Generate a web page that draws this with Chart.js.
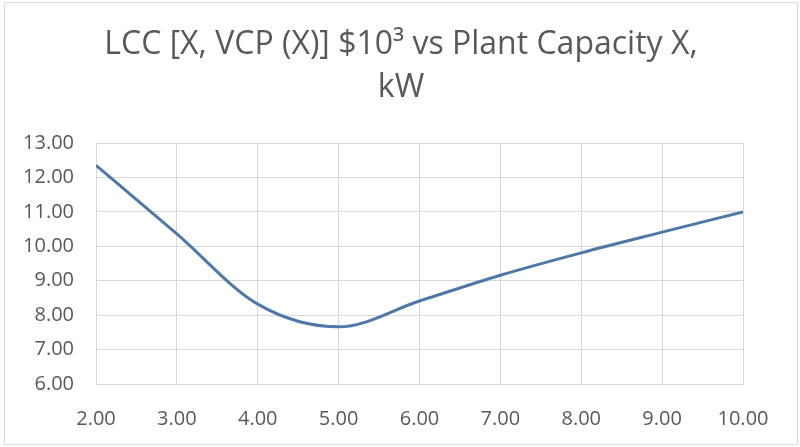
<!DOCTYPE html>
<html>
<head>
<meta charset="utf-8">
<script src="https://cdn.jsdelivr.net/npm/chart.js@4.4.0/dist/chart.umd.min.js"></script>
<style>
    body { margin: 0; background: #fff; }
    #wrap {
        position: absolute;
        left: 4px; top: 2px;
        width: 794px; height: 443px;
        border: 1px solid #d9d9d9;
        box-sizing: border-box;
    }
</style>
</head>
<body>
<div id="wrap"><canvas id="lccChart"></canvas></div>
<script>
// Plant capacity X (kW) and life cycle cost LCC ($10^3)
const capacity = [2, 3, 4, 5, 6, 7, 8, 9, 10];
const lcc = [12.35, 10.36, 8.32, 7.66, 8.41, 9.16, 9.81, 10.41, 11.0];
const xTicks = [2, 3, 4, 5, 6, 7, 8, 9, 10];
const yTicks = [6, 7, 8, 9, 10, 11, 12, 13];

const titleLines = ['LCC [X, VCP (X)] $10\u00b3 vs Plant Capacity X,', 'kW'];

// Title centred on the whole frame (Excel-style), not on the plot area
const centeredTitle = {
    id: 'centeredTitle',
    afterDraw(chart) {
        const c = chart.ctx;
        c.save();
        c.font = '32px "Open Sans"';
        c.fillStyle = '#595959';
        c.textAlign = 'center';
        c.textBaseline = 'middle';
        titleLines.forEach((line, i) => {
            c.fillText(line, chart.width / 2, 42 + i * 43);
        });
        c.restore();
    }
};

const initializeChart = () => {
    const ctx = document.getElementById('lccChart');
    const points = capacity.map((x, i) => ({ x: x, y: lcc[i] }));

    return new Chart(ctx.getContext('2d'), {
        type: 'line',
        data: {
            datasets: [{
                data: points,
                borderColor: '#4e78a8',
                borderWidth: 3,
                pointRadius: 0,
                cubicInterpolationMode: 'monotone',
                fill: false
            }]
        },
        options: {
            responsive: true,
            maintainAspectRatio: false,
            animation: false,
            layout: { padding: { left: 0, right: 54, top: 140, bottom: 0 } },
            plugins: {
                legend: { display: false },
                tooltip: { enabled: false },
                title: { display: false }
            },
            scales: {
                x: {
                    type: 'linear',
                    min: 2,
                    max: 10,
                    afterBuildTicks: s => { s.ticks = xTicks.map(v => ({ value: v })); },
                    afterFit: s => { s.height = 60; },
                    ticks: {
                        color: '#595959',
                        font: { family: 'Open Sans', size: 20 },
                        padding: 23,
                        maxRotation: 0,
                        callback: v => Number(v).toFixed(2)
                    },
                    grid: { color: '#d9d9d9', lineWidth: 1, drawTicks: false },
                    border: { color: '#d9d9d9' }
                },
                y: {
                    min: 6,
                    max: 13,
                    afterBuildTicks: s => { s.ticks = yTicks.map(v => ({ value: v })); },
                    afterFit: s => { s.width = 91; },
                    ticks: {
                        color: '#595959',
                        font: { family: 'Open Sans', size: 20 },
                        padding: 22,
                        callback: v => Number(v).toFixed(2)
                    },
                    grid: { color: '#d9d9d9', lineWidth: 1, drawTicks: false },
                    border: { color: '#d9d9d9' }
                }
            }
        },
        plugins: [centeredTitle]
    });
};

let lccChart;
document.addEventListener('DOMContentLoaded', () => {
    lccChart = initializeChart();
});
</script>
</body>
</html>
